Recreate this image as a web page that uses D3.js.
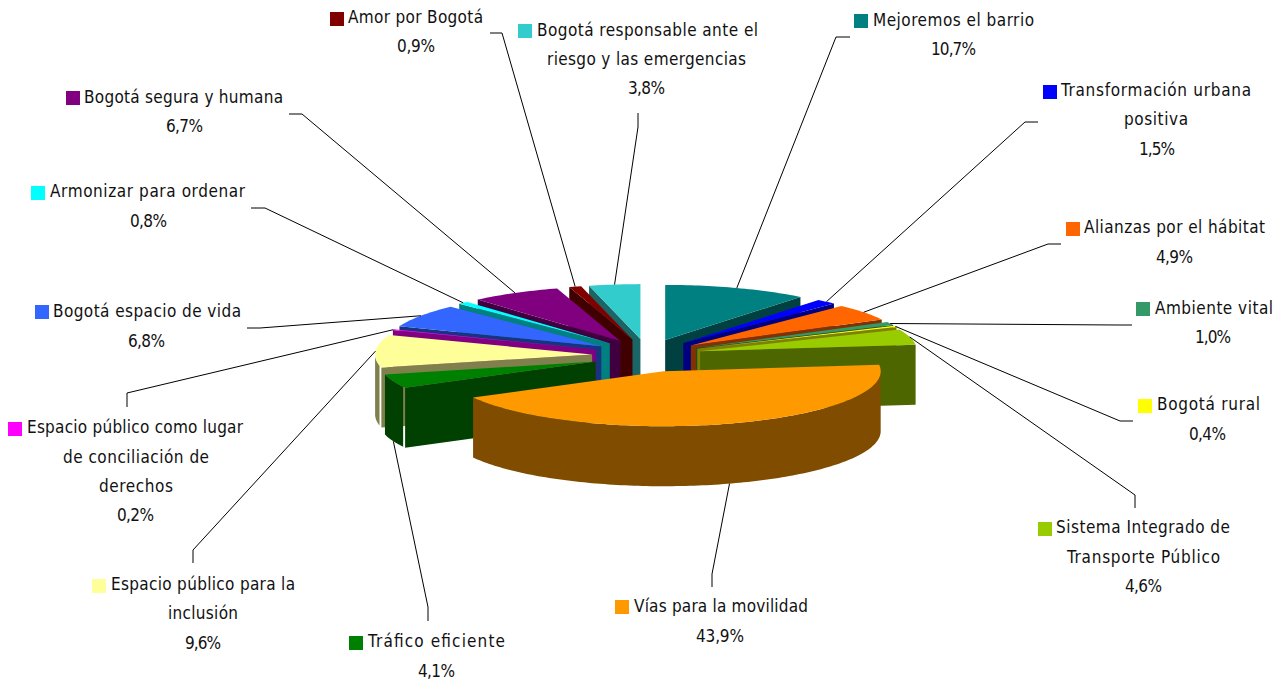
<!DOCTYPE html>
<html>
<head>
<meta charset="utf-8">
<script src="https://cdnjs.cloudflare.com/ajax/libs/d3/7.8.5/d3.min.js"></script>
<style>
html,body{margin:0;padding:0;background:#fff;overflow:hidden}
text{font-family:"DejaVu Sans Condensed","DejaVu Sans",sans-serif;font-size:17px;fill:#111}
</style>
</head>
<body>
<svg id="c" width="1287" height="683"></svg>
<script>
// Data
const categories = ["Mejoremos el barrio","Transformación urbana positiva","Alianzas por el hábitat","Ambiente vital","Bogotá rural","Sistema Integrado de Transporte Público","Vías para la movilidad","Tráfico eficiente","Espacio público para la inclusión","Espacio público como lugar de conciliación de derechos","Bogotá espacio de vida","Armonizar para ordenar","Bogotá segura y humana","Amor por Bogotá","Bogotá responsable ante el riesgo y las emergencias"];
const shares = [10.7,1.5,4.9,1.0,0.4,4.6,43.9,4.1,9.6,0.2,6.8,0.8,6.7,0.9,3.8];
const colors = ["#008080","#0000FF","#FF6600","#339966","#FFFF00","#99CC00","#FF9900","#008000","#FFFF99","#FF00FF","#3366FF","#00FFFF","#800080","#800000","#33CCCC"];
const labelLines = [
  ["Mejoremos el barrio"],
  ["Transformación urbana","positiva"],
  ["Alianzas por el hábitat"],
  ["Ambiente vital"],
  ["Bogotá rural"],
  ["Sistema Integrado de","Transporte Público"],
  ["Vías para la movilidad"],
  ["Tráfico eficiente"],
  ["Espacio público para la","inclusión"],
  ["Espacio público como lugar","de conciliación de","derechos"],
  ["Bogotá espacio de vida"],
  ["Armonizar para ordenar"],
  ["Bogotá segura y humana"],
  ["Amor por Bogotá"],
  ["Bogotá responsable ante el","riesgo y las emergencias"]
];

// Layout (label placement)
// key: [x, y]; rows: [x0, x1, baseline] for each text row incl. the percentage
const labelKeys = [[854,14],[1043,85],[1066,222],[1136,302],[1138,399],[1038,522],[615,600],[349,636],[92,579],[8,422],[35,305],[31,186],[66,91],[330,12],[518,24]];
const labelRows = [
  [[873,1034,26],[931,976,55]],
  [[1061,1251,96],[1124,1188,125],[1139,1175,155]],
  [[1084,1265,233],[1156,1193,263]],
  [[1155,1273,314],[1195,1231,343]],
  [[1157,1260,410],[1189,1226,440]],
  [[1056,1230,533],[1067,1220,563],[1125,1162,592]],
  [[634,808,612],[696,744,642]],
  [[368,505,647],[418,455,677]],
  [[111,295,590],[168,238,619],[185,221,649]],
  [[27,243,433],[63,209,463],[99,173,492],[117,154,521]],
  [[53,241,317],[128,165,347]],
  [[50,245,197],[130,167,227]],
  [[84,283,103],[166,203,132]],
  [[348,483,23],[397,435,52]],
  [[537,758,36],[547,746,65],[628,665,94]]
];
const leaderBends = [
  [[836,37],[850,37]],[[1025,122],[1038,122]],[[1048,244],[1061,244]],[[1118,325],[1132,325]],
  [[1120,421],[1133,421]],[[1135,495],[1135,508]],[[712,574],[712,587]],[[428,607],[428,621]],
  [[193,550],[193,563]],[[127,393],[127,407]],[[260,328],[247,328]],[[265,208],[251,208]],
  [[302,114],[289,114]],[[502,33],[490,33]],[[638,127],[638,113]]
];

const cx = 647, cy = 355.5, rx = 217, ry = 55, depth = 60, explodeX = 55, explodeY = 16.5, seam = 2;
const svg = d3.select("#c");

const pie = d3.pie().sort(null).value(d => d);
const arcs = pie(shares);
const sx = d3.scaleLinear().domain([-1,1]).range([-rx,rx]);
const sy = d3.scaleLinear().domain([-1,1]).range([-ry,ry]);
const poly = d3.line();
const dark = c => { const k=d3.rgb(c); return d3.rgb(k.r*.5,k.g*.5,k.b*.5).formatHex(); };

const slices = arcs.map((a,i) => {
  const mid = (a.startAngle+a.endAngle)/2;
  const ax = cx + explodeX*Math.sin(mid), ay = cy - explodeY*Math.cos(mid);
  const pt = t => [ax + sx(Math.sin(t)), ay + sy(-Math.cos(t))];
  return {i, a, mid, ax, ay, pt};
});
const arcPts = (s,t0,t1) => {
  const n = Math.max(2, Math.ceil((t1-t0)/0.02));
  return d3.range(n+1).map(k => s.pt(t0+(t1-t0)*k/n));
};
const down = p => [p[0], p[1]+depth];

// back to front
const order = slices.slice().sort((p,q) => Math.cos(q.mid)-Math.cos(p.mid));
const g = svg.append("g");
order.forEach(s => {
  const {a,i} = s, col = colors[i], side = dark(col), apex=[s.ax,s.ay];
  const face = t => {
    const e = s.pt(t);
    g.append("path").attr("d", poly([apex,e,down(e),down(apex)])+"Z").attr("fill",side);
  };
  const startVisible = Math.sin(a.startAngle) < 0;
  if (startVisible) face(a.startAngle);
  if (Math.sin(a.endAngle) > 0) face(a.endAngle);
  let t0 = Math.max(a.startAngle, Math.PI/2);
  const t1 = Math.min(a.endAngle, 3*Math.PI/2);
  if (t1 > t0) {
    // the reference leaves a hair gap between a cut face and the curved wall next to it
    if (startVisible && t0 === a.startAngle) t0 += seam/(rx*Math.abs(Math.cos(t0)));
    const top = arcPts(s,t0,t1);
    g.append("path").attr("d", poly(top.concat(top.slice().reverse().map(down)))+"Z").attr("fill",side);
  }
  g.append("path").attr("d", poly([apex].concat(arcPts(s,a.startAngle,a.endAngle)))+"Z").attr("fill",col);
});

// leaders
const lg = svg.append("g");
slices.forEach(s => {
  let p = s.pt(s.mid);
  if (Math.cos(s.mid) < -0.2) p = down(p);
  lg.append("path").attr("d", poly([p].concat(leaderBends[s.i]))).attr("fill","none").attr("stroke","#000").attr("stroke-width",1);
});

// labels
const fmt = v => v.toFixed(1).replace(".",",")+"%";
categories.forEach((c,i) => {
  const l = svg.append("g");
  l.append("rect").attr("x",labelKeys[i][0]).attr("y",labelKeys[i][1]).attr("width",14).attr("height",14).attr("fill",colors[i]);
  labelLines[i].concat([fmt(shares[i])]).forEach((t,j) => {
    const r = labelRows[i][j];
    l.append("text").attr("x",r[0]).attr("y",r[2]).attr("textLength",r[1]-r[0]).attr("lengthAdjust","spacing").text(t);
  });
});
</script>
</body>
</html>
